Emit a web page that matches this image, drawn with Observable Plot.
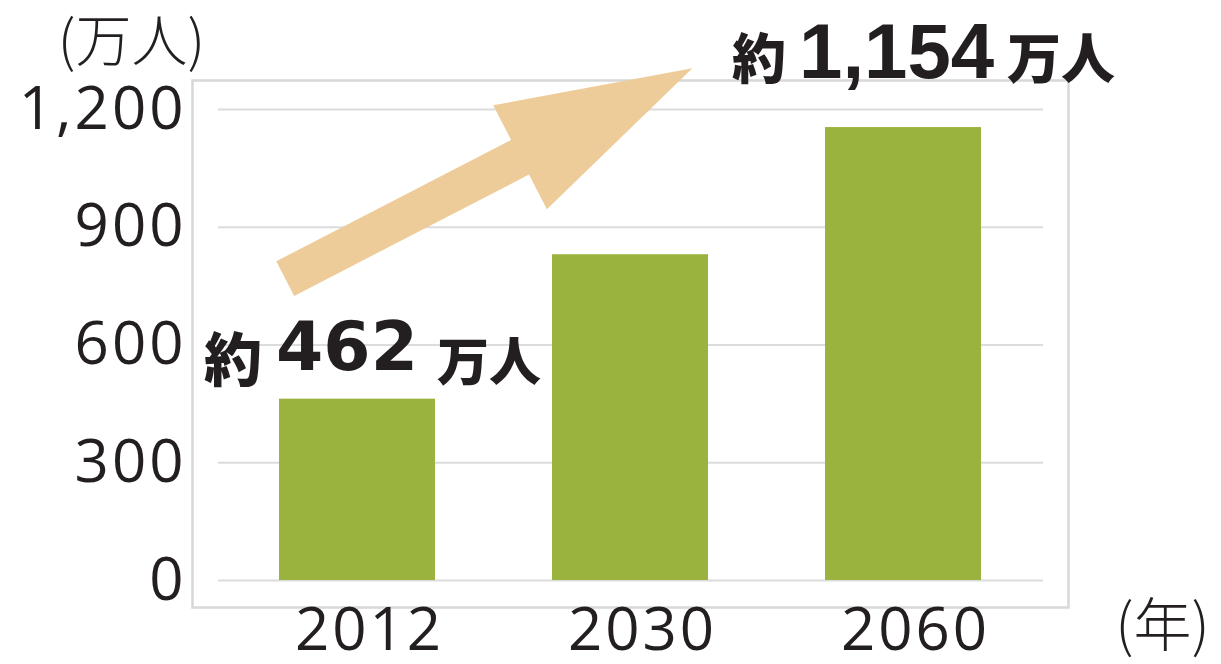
<!DOCTYPE html>
<html>
<head>
<meta charset="utf-8">
<script src="https://cdn.jsdelivr.net/npm/d3@7"></script>
<script src="https://cdn.jsdelivr.net/npm/@observablehq/plot@0.6"></script>
<style>
  html, body { margin: 0; padding: 0; background: #fff; }
  svg { display: block; }
  g[aria-label="y-axis tick label"] text,
  g[aria-label="x-axis tick label"] text { letter-spacing: 3px; }
</style>
</head>
<body>
<div id="chart"></div>
<script>
// ---- data ----
const years = ["2012", "2030", "2060"];
const population = [462, 830, 1154];          // 万人
const yTicks = [0, 300, 600, 900, 1200];
const yUnit = "(万人)";
const xUnit = "(年)";
const annoYears = ["2012", "2060"];
const annoValues = [462, 1154];
const annoPrefix = ["約", "約"];
const annoNumber = ["462", "1,154"];
const annoSuffix = ["万人", "万人"];
// decorative trend arrow (data-space anchors)
const arrowYears = ["2012", "2030"];
const arrowValues = [768, 1304];
const arrowBandFrac = [0.04, 0.9];

// ---- styles ----
const barColor = "#9ab33f";
const arrowColor = "#eecc99";
const gridColor = "#dcdcdc";
const ink = "#231f20";
const cjk = "'Noto Sans CJK JP', 'Noto Sans CJK SC', sans-serif";

const data = years.map((y, i) => ({year: y, value: population[i]}));

function arrowMark(index, scales) {
  const xs = scales.x;
  const bw = typeof xs.bandwidth === "function" ? xs.bandwidth() : xs.bandwidth;
  const T = [xs(arrowYears[0]) + bw * arrowBandFrac[0], scales.y(arrowValues[0])];
  const P = [xs(arrowYears[1]) + bw * arrowBandFrac[1], scales.y(arrowValues[1])];
  const shaft = 39, head = 117, headLen = 194;
  const dx = P[0] - T[0], dy = P[1] - T[1], L = Math.hypot(dx, dy);
  const u = [dx / L, dy / L], n = [-u[1], u[0]];
  const B = [P[0] - u[0] * headLen, P[1] - u[1] * headLen];
  const pt = (p, k) => [p[0] + n[0] * k, p[1] + n[1] * k];
  const pts = [pt(T, shaft / 2), pt(B, shaft / 2), pt(B, head / 2), P,
               pt(B, -head / 2), pt(B, -shaft / 2), pt(T, -shaft / 2)];
  return d3.create("svg:polygon")
    .attr("points", pts.map(p => p.join(",")).join(" "))
    .attr("fill", arrowColor)
    .node();
}

const annoMarks = [];
annoYears.forEach((yr, i) => {
  const d = [{year: yr, value: annoValues[i], p: annoPrefix[i], n: annoNumber[i], s: annoSuffix[i]}];
  const first = i === 0;
  annoMarks.push(
    Plot.text(d, {x: "year", y: "value", text: "p", textAnchor: "start", lineAnchor: "bottom",
      dx: first ? -153.5 : -171.5, dy: first ? -18 : -49,
      fontSize: first ? 58 : 54, fontWeight: 900, fontFamily: cjk, fill: ink}),
    Plot.text(d, {x: "year", y: "value", text: "n", textAnchor: "start", lineAnchor: "bottom",
      dx: first ? -81.5 : -104.5, dy: first ? -29 : -50,
      fontSize: first ? 68 : 78, fontWeight: "bold",
      fontFamily: first ? "'DejaVu Sans', sans-serif" : "'Liberation Sans', Arial, sans-serif", fill: ink}),
    Plot.text(d, {x: "year", y: "value", text: "s", textAnchor: "start", lineAnchor: "bottom",
      dx: first ? 79.5 : 103.5, dy: first ? -18 : -49,
      fontSize: first ? 52 : 54, fontWeight: 900, fontFamily: cjk, fill: ink})
  );
});

const chart = Plot.plot({
  width: 1221,
  height: 664,
  marginLeft: 218,
  marginRight: 178,
  marginTop: 109,
  marginBottom: 84,
  style: {fontFamily: "'Open Sans', sans-serif", color: ink, background: "#fff"},
  x: {domain: years, paddingInner: 0.427, paddingOuter: 0.219, label: null},
  y: {domain: [0, 1200], label: null},
  marks: [
    Plot.ruleY(yTicks, {stroke: gridColor, strokeWidth: 2}),
    Plot.frame({stroke: "#d8d8d8", strokeWidth: 2.5, insetLeft: -26, insetRight: -25, insetTop: -29, insetBottom: -27}),
    Plot.barY(data, {x: "year", y: "value", fill: barColor}),
    arrowMark,
    Plot.axisY({ticks: yTicks, tickSize: 0, tickPadding: 32, fontSize: 60, fontWeight: 400,
      tickFormat: d3.format(","), label: null, fill: ink}),
    Plot.axisX({tickSize: 0, tickPadding: 27, dx: 12, fontSize: 60, fontWeight: 400, label: null, fill: ink}),
    Plot.text([yUnit], {frameAnchor: "top-left", textAnchor: "middle", lineAnchor: "bottom",
      dx: -87, dy: -49, fontSize: 56, fontWeight: 300, fontFamily: cjk, fill: ink}),
    Plot.text([xUnit], {frameAnchor: "bottom-right", textAnchor: "middle", lineAnchor: "bottom",
      dx: 119, dy: 65, fontSize: 58, fontWeight: 300, fontFamily: cjk, fill: ink}),
    ...annoMarks
  ]
});
document.getElementById("chart").appendChild(chart);
</script>
</body>
</html>
